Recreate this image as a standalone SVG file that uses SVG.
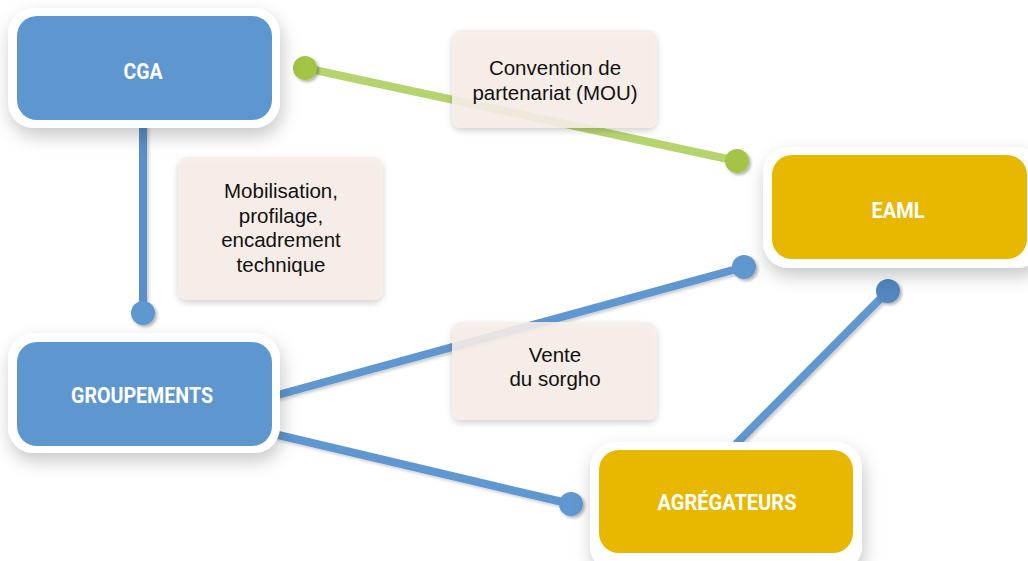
<svg xmlns="http://www.w3.org/2000/svg" width="1028" height="561" viewBox="0 0 1028 561">
<defs>
<filter id="nodeShadow" x="-20%" y="-30%" width="140%" height="170%">
<feDropShadow dx="2" dy="8" stdDeviation="9" flood-color="#000" flood-opacity="0.22"/>
</filter>
<filter id="boxShadow" x="-20%" y="-20%" width="140%" height="150%">
<feDropShadow dx="0" dy="3" stdDeviation="3" flood-color="#000" flood-opacity="0.2"/>
</filter>
<filter id="dotShadow" x="-50%" y="-50%" width="200%" height="200%">
<feDropShadow dx="2" dy="2" stdDeviation="1.5" flood-color="#000" flood-opacity="0.3"/>
</filter>
<filter id="lineShadow" filterUnits="userSpaceOnUse" x="0" y="0" width="1028" height="561">
<feDropShadow dx="2" dy="2" stdDeviation="1.5" flood-color="#000" flood-opacity="0.2"/>
</filter>
</defs>
<style>
.outer{fill:#ffffff;filter:url(#nodeShadow);}
.blue{fill:#5e97d0;}
.yellow{fill:#e8b800;}
.ntext{font-family:"Roboto","Liberation Sans",sans-serif;font-weight:bold;font-size:22px;fill:#ffffff;text-anchor:middle;}
.lbox{fill:#f7eee8;fill-opacity:0.88;filter:url(#boxShadow);}
.ltext{font-family:"Liberation Sans","Helvetica",sans-serif;font-size:20.5px;fill:#111111;text-anchor:middle;}
.bline{stroke:#5e97d0;stroke-width:8;fill:none;filter:url(#lineShadow);}
.gline{stroke:#b6d46e;stroke-width:8;fill:none;}
.bdot{fill:#5e97d0;filter:url(#dotShadow);}
.gdot{fill:#a4c444;filter:url(#dotShadow);}
</style>
<rect width="1028" height="561" fill="#ffffff"/>

<g id="connectors">
<line class="gline" x1="305" y1="68" x2="737" y2="161"/>
<line class="bline" x1="143" y1="118" x2="143" y2="313" style="stroke:#5a8fc8"/>
<line class="bline" x1="274" y1="396" x2="744" y2="267"/>
<line class="bline" x1="274" y1="434" x2="571" y2="504"/>
<line class="bline" x1="736" y1="444" x2="888" y2="291"/>
<circle class="gdot" cx="305" cy="68" r="12"/>
<circle class="gdot" cx="737" cy="161" r="12"/>
<circle class="bdot" cx="143" cy="313" r="12"/>
<circle class="bdot" cx="744" cy="267" r="12"/>
<circle class="bdot" cx="571" cy="504" r="12"/>
<circle class="bdot" cx="888" cy="291" r="12" style="fill:#5287c0"/>
</g>

<g id="label-mou">
<rect class="lbox" x="452" y="30" width="205" height="98" rx="9"/>
<text class="ltext" x="555" y="75">Convention de</text>
<text class="ltext" x="555" y="100">partenariat (MOU)</text>
</g>

<g id="label-mobilisation">
<rect class="lbox" x="178" y="157" width="205" height="143" rx="9"/>
<text class="ltext" x="281" y="198">Mobilisation,</text>
<text class="ltext" x="281" y="223">profilage,</text>
<text class="ltext" x="281" y="247">encadrement</text>
<text class="ltext" x="281" y="272">technique</text>
</g>

<g id="label-vente">
<rect class="lbox" x="452" y="322" width="205" height="98" rx="9"/>
<text class="ltext" x="555" y="362">Vente</text>
<text class="ltext" x="555" y="386">du sorgho</text>
</g>

<g id="node-cga">
<rect class="outer" x="8" y="8" width="272" height="120" rx="26"/>
<rect class="blue" x="17" y="16" width="255" height="104" rx="20"/>
<text class="ntext" x="143" y="79" textLength="39" lengthAdjust="spacingAndGlyphs">CGA</text>
</g>

<g id="node-groupements">
<rect class="outer" x="8" y="333" width="272" height="120" rx="26"/>
<rect class="blue" x="17" y="342" width="255" height="104" rx="20"/>
<text class="ntext" x="142" y="403" textLength="142" lengthAdjust="spacingAndGlyphs">GROUPEMENTS</text>
</g>

<g id="node-eaml">
<rect class="outer" x="763" y="147" width="280" height="121" rx="26"/>
<rect class="yellow" x="772" y="155" width="255" height="104" rx="20"/>
<text class="ntext" x="898" y="218" textLength="53" lengthAdjust="spacingAndGlyphs">EAML</text>
</g>

<g id="node-agregateurs">
<rect class="outer" x="590" y="442" width="272" height="130" rx="26"/>
<rect class="yellow" x="599" y="450" width="254" height="103" rx="20"/>
<text class="ntext" x="727" y="510" textLength="139" lengthAdjust="spacingAndGlyphs">AGRÉGATEURS</text>
</g>
</svg>
